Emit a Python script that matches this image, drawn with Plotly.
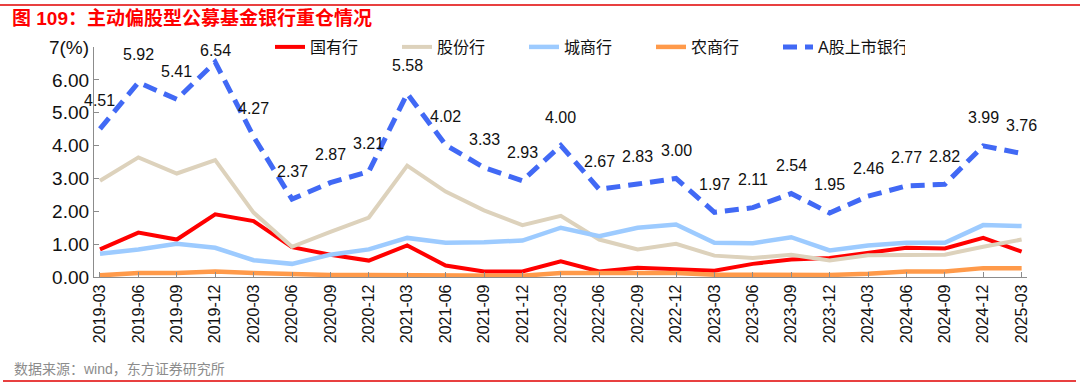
import plotly.graph_objects as go

# ---------------- data ----------------
quarters = ["2019-03", "2019-06", "2019-09", "2019-12", "2020-03", "2020-06", "2020-09", "2020-12",
            "2021-03", "2021-06", "2021-09", "2021-12", "2022-03", "2022-06", "2022-09", "2022-12",
            "2023-03", "2023-06", "2023-09", "2023-12", "2024-03", "2024-06", "2024-09", "2024-12",
            "2025-03"]

state_owned = [0.84, 1.35, 1.14, 1.91, 1.70, 0.91, 0.68, 0.50, 0.96, 0.35, 0.17, 0.17, 0.48, 0.17,
               0.28, 0.23, 0.19, 0.40, 0.53, 0.58, 0.73, 0.89, 0.87, 1.19, 0.77]
joint_stock = [2.93, 3.64, 3.15, 3.56, 1.96, 0.92, 1.37, 1.81, 3.39, 2.60, 2.03, 1.58, 1.86, 1.14,
               0.84, 1.01, 0.65, 0.58, 0.68, 0.50, 0.66, 0.66, 0.68, 0.92, 1.14]
city_comm = [0.71, 0.84, 1.01, 0.89, 0.51, 0.40, 0.68, 0.84, 1.19, 1.04, 1.06, 1.11, 1.50, 1.24,
             1.50, 1.60, 1.04, 1.03, 1.21, 0.81, 0.96, 1.04, 1.04, 1.58, 1.55]
rural_comm = [0.05, 0.12, 0.12, 0.17, 0.12, 0.08, 0.06, 0.06, 0.05, 0.03, 0.03, 0.04, 0.12, 0.12,
              0.15, 0.12, 0.07, 0.07, 0.07, 0.06, 0.10, 0.17, 0.17, 0.27, 0.27]
a_share_banks = [4.51, 5.92, 5.41, 6.54, 4.27, 2.37, 2.87, 3.21, 5.58, 4.02, 3.33, 2.93, 4.00, 2.67,
                 2.83, 3.00, 1.97, 2.11, 2.54, 1.95, 2.46, 2.77, 2.82, 3.99, 3.76]

series_names = ["国有行", "股份行", "城商行", "农商行", "A股上市银行"]
y_tick_vals = [0, 1, 2, 3, 4, 5, 6, 7]
y_tick_text = ["0.00", "1.00", "2.00", "3.00", "4.00", "5.00", "6.00", "7(%)"]

title_text = "图 109：主动偏股型公募基金银行重仓情况"
source_text = "数据来源：wind，东方证券研究所"

# ---------------- layout geometry ----------------
W, H = 1080, 392
ML, MR, MT, MB = 94, 53, 47, 115
PW, PH = W - ML - MR, H - MT - MB
Y_MAX = 7

def px_x(px):
    return (px - ML) / PW

def px_y(py):
    return (H - MB - py) / PH

FONT = "Liberation Sans, Arial, Noto Sans CJK SC, sans-serif"

fig = go.Figure()

styles = [
    dict(color="#FF0000", width=4),
    dict(color="#DDD2BC", width=4),
    dict(color="#9DCBFF", width=4.5),
    dict(color="#FF9A4A", width=4.5),
    dict(color="#4169F5", width=5, dash="14px,8px"),
]
for name, vals, st in zip(series_names,
                          [state_owned, joint_stock, city_comm, rural_comm, a_share_banks],
                          styles):
    fig.add_trace(go.Scatter(x=quarters, y=vals, mode="lines", name=name, line=st))

# data labels for A股上市银行 (kept inside the plot area, like the original)
LABEL_SHIFT = 28
LABEL_MIN_CENTER = 4  # px below plot top
for q, v in zip(quarters, a_share_banks):
    room = (Y_MAX - v) / Y_MAX * PH - LABEL_MIN_CENTER
    shift = min(LABEL_SHIFT, room)
    fig.add_annotation(x=q, y=v, text=f"{v:.2f}", showarrow=False, yshift=shift,
                       font=dict(size=16, color="#111111", family=FONT))

# source note
fig.add_annotation(xref="paper", yref="paper", x=px_x(12), y=px_y(369), text=source_text,
                   showarrow=False, xanchor="left", yanchor="middle",
                   font=dict(size=14, color="#8C8C8C", family=FONT))

# red rules top and bottom
fig.add_shape(type="line", xref="paper", yref="paper", x0=px_x(0), x1=px_x(W), y0=px_y(5), y1=px_y(5),
              line=dict(color="#E00000", width=1.5))
fig.add_shape(type="line", xref="paper", yref="paper", x0=px_x(3), x1=px_x(1076), y0=px_y(381), y1=px_y(381),
              line=dict(color="#E00000", width=1.5))

fig.update_layout(
    width=W, height=H,
    margin=dict(l=ML, r=MR, t=MT, b=MB),
    paper_bgcolor="white", plot_bgcolor="white",
    font=dict(family=FONT, size=16, color="#111111"),
    title=dict(text=f"<b>{title_text}</b>", x=12 / W, xanchor="left", y=1 - 18 / H, yanchor="middle",
               font=dict(size=19, color="#FF0000", family="Liberation Sans, Noto Sans CJK SC, sans-serif")),
    showlegend=True,
    legend=dict(orientation="h", x=px_x(270), xanchor="left", y=1, yanchor="middle",
                font=dict(size=16, color="#111111", family=FONT),
                entrywidth=82, entrywidthmode="pixels", bgcolor="rgba(0,0,0,0)"),
    xaxis=dict(type="category", range=[-0.156, 24.14], showgrid=False, zeroline=False,
               showline=True, linecolor="#8C8C8C", linewidth=1.2,
               ticks="inside", ticklen=5, tickcolor="#8C8C8C",
               tickangle=-90, tickfont=dict(size=16, color="#111111", family=FONT)),
    yaxis=dict(range=[0, Y_MAX], showgrid=False, zeroline=False,
               showline=True, linecolor="#8C8C8C", linewidth=1.2,
               ticks="inside", ticklen=5, tickcolor="#8C8C8C",
               tickvals=y_tick_vals, ticktext=y_tick_text,
               tickfont=dict(size=19, color="#111111", family=FONT)),
)

fig.write_html("out.html", config={"displayModeBar": False},
               post_script="document.body.style.margin='0';")
